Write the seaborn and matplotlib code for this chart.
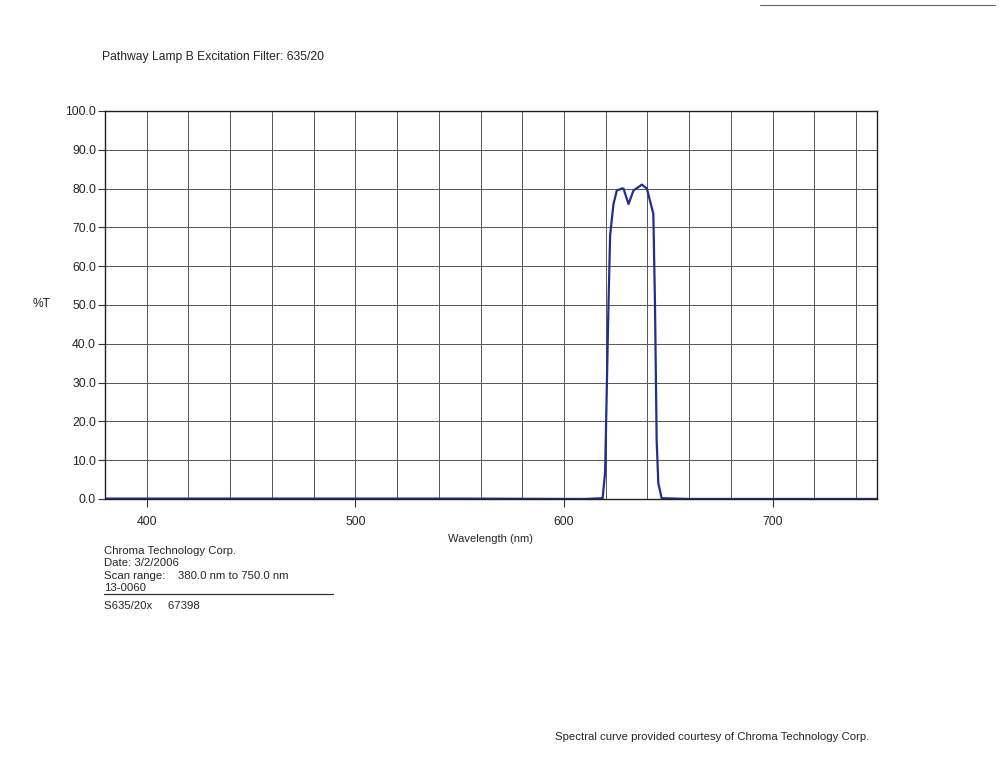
import numpy as np
import pandas as pd
import seaborn as sns
import matplotlib.pyplot as plt

# Transmission curve
wavelength = [380, 450, 550, 610, 618.5, 619.7, 621.3, 622.1, 623.7, 625.3, 627.7,
              628.5, 630.9, 633.3, 637.3, 639.7, 642.8, 643.6, 644.4, 645.2, 646.8,
              660, 700, 750]
transmission = [0.1, 0.1, 0.1, 0.0, 0.2, 7.0, 50.0, 68.0, 76.0, 79.5, 80.0,
                80.0, 76.0, 79.5, 81.0, 80.0, 73.5, 50.0, 15.0, 4.0, 0.2,
                0.0, 0.0, 0.0]

y_ticks = np.arange(0, 101, 10)
x_labels = [400, 500, 600, 700]
x_grid = np.arange(400, 741, 20)

df = pd.DataFrame({"Wavelength": wavelength, "T": transmission})

sns.set_style("white")
plt.rcParams['font.family'] = ['Liberation Sans', 'DejaVu Sans']

fig = plt.figure(figsize=(10, 7.73), dpi=100)
ax = fig.add_axes([0.105, 0.3545, 0.772, 0.502])

sns.lineplot(data=df, x="Wavelength", y="T", ax=ax, color="#1f2f8f", linewidth=1.6)

ax.set_xlim(380, 750)
ax.set_ylim(0, 100)
ax.set_yticks(y_ticks)
ax.set_yticklabels([f"{v:.1f}" for v in y_ticks], fontsize=8.8)
ax.set_xticks(x_labels)
ax.set_xticklabels([str(v) for v in x_labels], fontsize=8.8)
ax.set_xticks(x_grid, minor=True)
ax.tick_params(axis='x', which='major', direction='out', length=6, width=0.8, color='#333333', pad=6)
ax.tick_params(axis='x', which='minor', direction='out', length=4, width=0.8, color='#333333')
ax.tick_params(axis='y', direction='out', length=5, width=0.8, color='#333333', pad=1.5)
ax.tick_params(bottom=True, left=True)

ax.grid(True, axis='y', color='#555555', linewidth=0.7)
ax.grid(True, axis='x', which='both', color='#555555', linewidth=0.7)
ax.set_axisbelow(True)
for s in ax.spines.values():
    s.set_color('#222222')
    s.set_linewidth(1.0)

ax.set_xlabel("Wavelength (nm)", fontsize=8)
ax.xaxis.set_label_coords(0.5, -0.09)
ax.set_ylabel("")

fig.text(0.102, 0.926, "Pathway Lamp B Excitation Filter: 635/20", fontsize=8.7, va='center')
fig.text(0.033, 0.607, "%T", fontsize=8.7, va='center')

info = "Chroma Technology Corp.\nDate: 3/2/2006\nScan range:    380.0 nm to 750.0 nm\n13-0060"
fig.text(0.104, 0.294, info, fontsize=8.2, va='top', linespacing=1.3)
fig.add_artist(plt.Line2D([0.104, 0.333], [0.232, 0.232], color='#333333', linewidth=0.9))
fig.text(0.104, 0.216, "S635/20x     67398", fontsize=8.2, va='center')
fig.text(0.555, 0.046, "Spectral curve provided courtesy of Chroma Technology Corp.", fontsize=8.2, va='center')
fig.add_artist(plt.Line2D([0.76, 0.995], [0.9935, 0.9935], color='#666666', linewidth=0.8))

fig.savefig("out.png", dpi=100)
